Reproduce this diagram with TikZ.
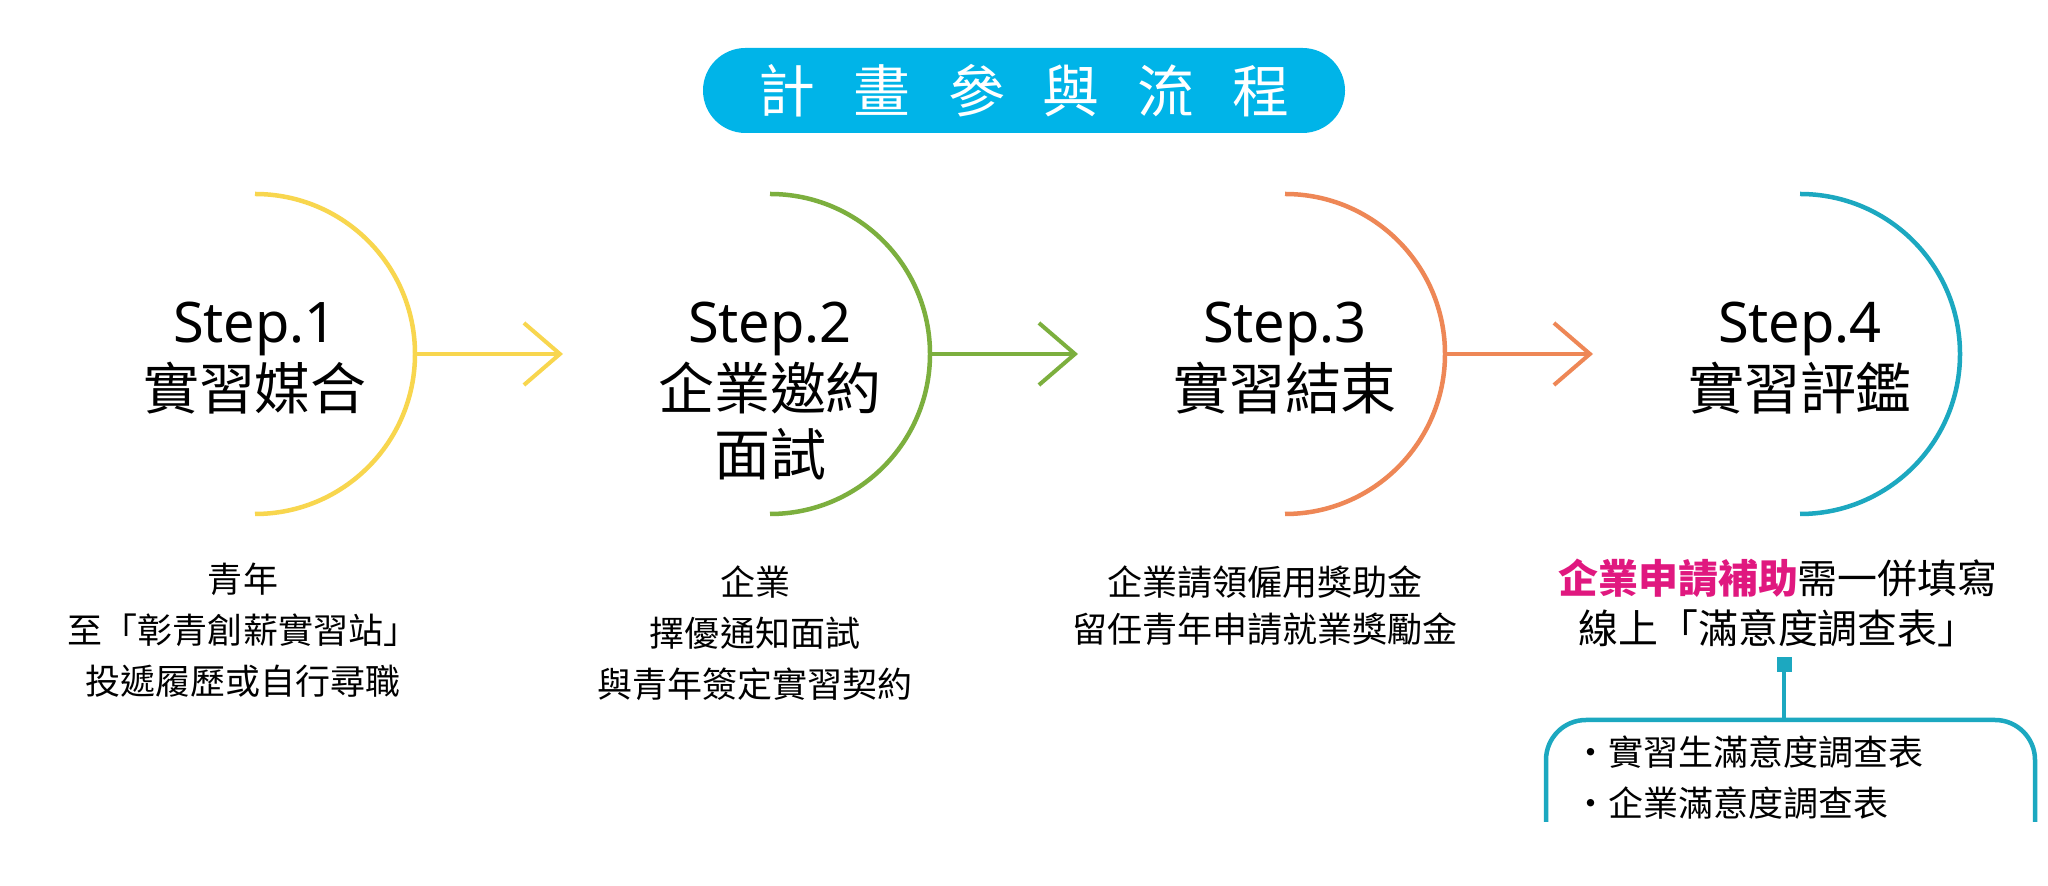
\documentclass[tikz,border=0pt]{standalone}
\usepackage{fontspec}
\setmainfont{Noto Sans CJK TC}
\newfontfamily\latinfont{Noto Sans}
\usetikzlibrary{arrows.meta}

\definecolor{stepyellow}{RGB}{248,214,78}
\definecolor{stepgreen}{RGB}{124,175,62}
\definecolor{steporange}{RGB}{238,135,86}
\definecolor{stepteal}{RGB}{28,168,192}
\definecolor{titleblue}{RGB}{0,180,232}
\definecolor{applypink}{RGB}{224,24,127}

\begin{document}
\begin{tikzpicture}[
    arcline/.style={line width=0.1125cm},
    flow/.style={line width=0.1cm,-{Straight Barb[length=0.9cm,width=1.55cm]}},
    steptitle/.style={anchor=base,text width=12cm,align=center,inner sep=0,font=\stepfontsize},
    desc/.style={anchor=base,text width=12cm,align=center,inner sep=0,font=\descfontsize},
  ]
    \pgfmathsetmacro{\arcradius}{4}
    \pgfmathsetmacro{\canvaswidth}{51.2}
    \pgfmathsetmacro{\canvasheight}{22.15}
    % \pgfmathsetmacro{\stepgap}{12.9}
    \pgfmathsetmacro{\stepgap}{12.875}
    \providecommand{\pillfontsize}{\fontsize{40.5pt}{48pt}\selectfont}
    \providecommand{\stepfontsize}{\fontsize{39.8pt}{47pt}\selectfont}
    \providecommand{\descfontsize}{\fontsize{24.9pt}{36pt}\selectfont}
    \providecommand{\applyfontsize}{\fontsize{28.4pt}{34.9pt}\selectfont}
    \providecommand{\pillgap}{\hspace{0.95cm}}
    \useasboundingbox (0,0) rectangle (\canvaswidth,\canvasheight);
    \fill[white] (0,0) rectangle (\canvaswidth,\canvasheight);

    \node[fill=titleblue,rounded corners=1.0625cm,minimum width=16.05cm,minimum height=2.125cm,inner sep=0,text=white,font=\pillfontsize] (title) at (25.6,19.8875)
    {計\pillgap 畫\pillgap 參\pillgap 與\pillgap 流\pillgap 程};

    \coordinate (c1) at (6.375,13.3);
    \coordinate (c2) at (6.375+\stepgap,13.3);
    \coordinate (c3) at (6.375+2*\stepgap,13.3);
    \coordinate (c4) at (6.375+3*\stepgap,13.3);

    \draw[arcline,stepyellow] ([yshift=\arcradius cm]c1) arc[start angle=90,end angle=-90,radius=\arcradius];
    \draw[arcline,stepgreen] ([yshift=\arcradius cm]c2) arc[start angle=90,end angle=-90,radius=\arcradius];
    \draw[arcline,steporange] ([yshift=\arcradius cm]c3) arc[start angle=90,end angle=-90,radius=\arcradius];
    \draw[arcline,stepteal] ([yshift=\arcradius cm]c4) arc[start angle=90,end angle=-90,radius=\arcradius];

    \coordinate (r1) at ([xshift=\arcradius cm]c1);
    \coordinate (t1) at ([xshift=7.7cm]c1);
    \coordinate (r2) at ([xshift=\arcradius cm]c2);
    \coordinate (t2) at ([xshift=7.7cm]c2);
    \coordinate (r3) at ([xshift=\arcradius cm]c3);
    \coordinate (t3) at ([xshift=7.7cm]c3);
    \draw[flow,stepyellow] (r1) -- (t1);
    \draw[flow,stepgreen] (r2) -- (t2);
    \draw[flow,steporange] (r3) -- (t3);

    \node[steptitle] (s1) at (6.375,13.575) {{\latinfont Step.1}\\實習媒合};
    \node[steptitle] (s2) at (6.375+\stepgap,13.575) {{\latinfont Step.2}\\企業邀約\\面試};
    \node[steptitle] (s3) at (6.375+2*\stepgap,13.575) {{\latinfont Step.3}\\實習結束};
    \node[steptitle] (s4) at (6.375+3*\stepgap,13.575) {{\latinfont Step.4}\\實習評鑑};

    \node[desc] (d1) at (6.075,7.325) {青年\\至「彰青創薪實習站」\\投遞履歷或自行尋職};
    \node[desc] (d2) at (18.875,7.25) {企業\\擇優通知面試\\與青年簽定實習契約};
    \node[desc,font=\fontsize{24.9pt}{33pt}\selectfont] (d3) at (31.625,7.25) {企業請領僱用獎助金\\留任青年申請就業獎勵金};
    \node[desc,font=\applyfontsize] (d4) at (44.45,7.3) {{\color{applypink}\bfseries 企業申請補助}需一併填寫\\線上「滿意度調查表」};

    \node[fill=stepteal,minimum size=0.375cm,inner sep=0] (mark) at (44.61,5.5375) {};
    \coordinate (boxtop) at (44.61,4.15);
    \draw[stepteal,line width=0.1cm] (mark) -- (boxtop);
    \draw[stepteal,line width=0.1125cm,rounded corners=1cm] (38.65,1.6) -- (38.65,4.15) -- (50.875,4.15) -- (50.875,1.6);
    \node[anchor=base west,text width=11cm,align=left,inner sep=0,font=\descfontsize] (forms) at (39.325,3.0) {・實習生滿意度調查表\\・企業滿意度調查表};
\end{tikzpicture}
\end{document}
